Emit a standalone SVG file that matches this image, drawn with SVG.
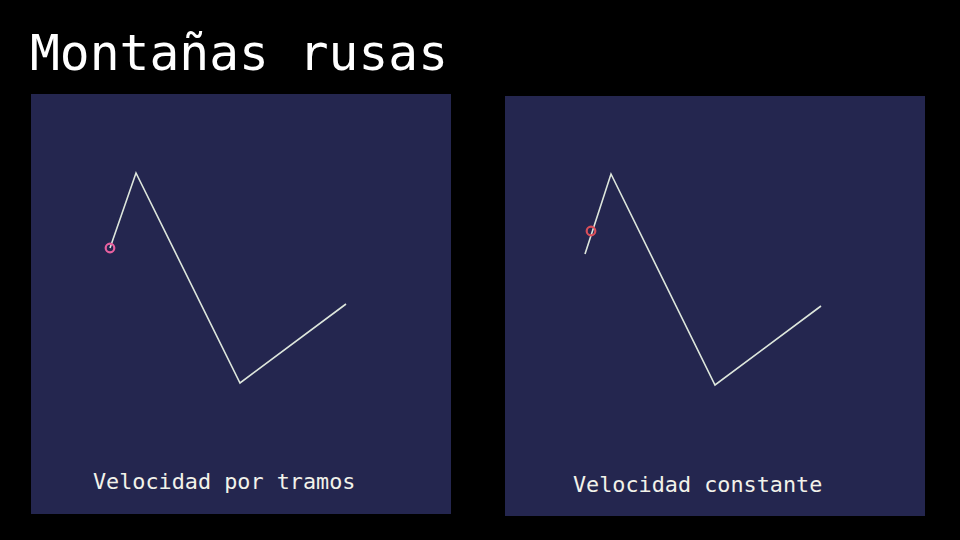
<svg xmlns="http://www.w3.org/2000/svg" width="960" height="540" viewBox="0 0 960 540">
<style>
.panel{fill:#24264f}
.track{fill:none;stroke:#dde6dc;stroke-width:1.6;stroke-linejoin:miter}
.lbl{font-family:"DejaVu Sans Mono","Liberation Mono",monospace;font-size:21.8px;fill:#f2f2ea}
.title{font-family:"DejaVu Sans Mono","Liberation Mono",monospace;font-size:49.6px;fill:#ffffff}
</style>
<rect width="960" height="540" fill="#000"/>
<text class="title" x="30" y="70">Montañas rusas</text>
<g id="panel-left">
<rect class="panel" x="31" y="94" width="420" height="420"/>
<text class="lbl" x="93" y="489">Velocidad por tramos</text>
</g>
<g id="panel-right">
<rect class="panel" x="505" y="96" width="420" height="420"/>
<text class="lbl" x="573" y="492">Velocidad constante</text>
</g>
<g id="connectors">
<polyline class="track" points="110,248 136,173 240,383 346,304"/>
<polyline class="track" points="585,254 611,174 715,385 821,306"/>
</g>
<g id="marker-left"><circle cx="110" cy="248" r="4.3" fill="none" stroke="#e8609f" stroke-width="2.2"/></g>
<g id="marker-right"><circle cx="591" cy="231" r="4.3" fill="none" stroke="#d94e5a" stroke-width="2.2"/></g>
</svg>
